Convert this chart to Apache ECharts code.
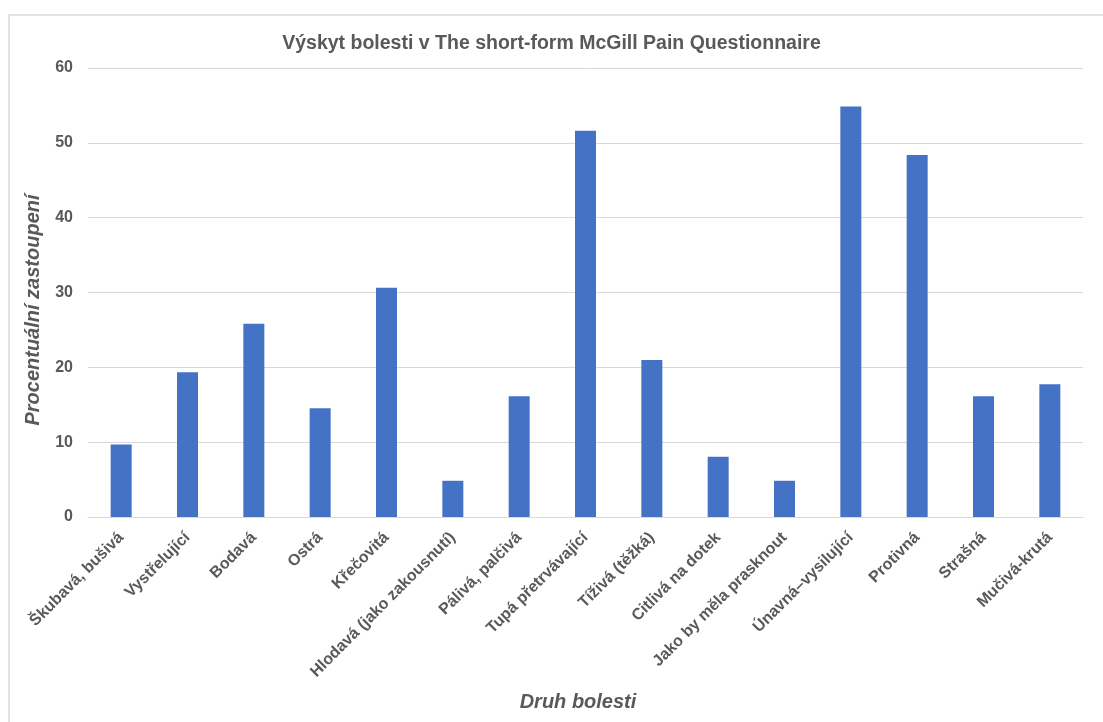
<!DOCTYPE html>
<html>
<head>
<meta charset="utf-8">
<script src="https://cdn.jsdelivr.net/npm/echarts@6/dist/echarts.min.js"></script>
<style>
html,body{margin:0;padding:0;background:#fff;}
#chart{width:1103px;height:722px;}
</style>
</head>
<body>
<div id="chart"></div>
<script>
const titleText = 'Výskyt bolesti v The short-form McGill Pain Questionnaire';
const categories = ['Škubavá, bušivá','Vystřelující','Bodavá','Ostrá','Křečovitá','Hlodavá (jako zakousnutí)','Pálivá, palčivá','Tupá přetrvávající','Tíživá (těžká)','Citlivá na dotek','Jako by měla prasknout','Únavná–vysilující','Protivná','Strašná','Mučivá-krutá'];
const values = [9.68, 19.35, 25.81, 14.52, 30.65, 4.84, 16.13, 51.61, 20.97, 8.06, 4.84, 54.84, 48.39, 16.13, 17.74];
const yTicks = [0, 10, 20, 30, 40, 50, 60];
const xName = 'Druh bolesti';
const yName = 'Procentuální zastoupení';

const font = '"Liberation Sans", Arial, sans-serif';
const txt = '#595959';
const chart = echarts.init(document.getElementById('chart'), null, {renderer: 'canvas'});
chart.setOption({
  backgroundColor: '#ffffff',
  animation: false,
  title: {
    text: titleText,
    left: 'center',
    top: 29,
    textStyle: {fontFamily: font, fontSize: 19.5, fontWeight: 'bold', color: txt}
  },
  grid: {left: 88, right: 20, top: 68, bottom: 205, containLabel: false},
  xAxis: {
    type: 'category',
    data: categories,
    axisLine: {lineStyle: {color: '#d9d9d9', width: 1}},
    axisTick: {show: false},
    axisLabel: {rotate: 45, margin: 18, interval: 0,
      fontFamily: font, fontSize: 16, fontWeight: 'bold', color: txt}
  },
  yAxis: {
    type: 'value',
    min: yTicks[0],
    max: yTicks[yTicks.length - 1],
    interval: yTicks[1] - yTicks[0],
    axisLine: {show: false},
    axisTick: {show: false},
    splitLine: {lineStyle: {color: '#d9d9d9', width: 1}},
    axisLabel: {margin: 15, fontFamily: font, fontSize: 16, fontWeight: 'bold', color: txt}
  },
  series: [{
    type: 'bar',
    data: values,
    barWidth: 21,
    itemStyle: {color: '#4472C4'}
  }],
  graphic: [
    {type: 'rect', shape: {x: 9, y: 15, width: 1200, height: 800}, style: {fill: 'none', stroke: '#d9d9d9', lineWidth: 1.5}, silent: true},
    {type: 'text', x: 578, y: 702, style: {text: xName, fontFamily: font, fontSize: 20, fontWeight: 'bold', fontStyle: 'italic', fill: txt, textAlign: 'center', textVerticalAlign: 'middle'}},
    {type: 'text', x: 33, y: 310, rotation: Math.PI / 2, style: {text: yName, fontFamily: font, fontSize: 20, fontWeight: 'bold', fontStyle: 'italic', fill: txt, textAlign: 'center', textVerticalAlign: 'middle'}}
  ]
});
</script>
</body>
</html>
